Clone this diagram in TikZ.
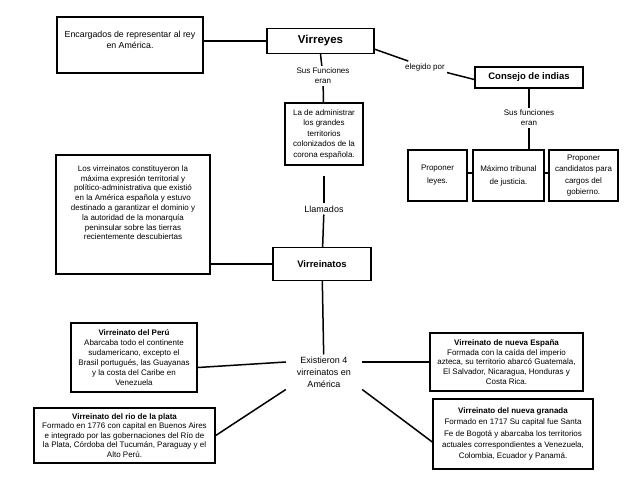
\documentclass[tikz,border=0pt]{standalone}
\usepackage{fontspec}
\setmainfont{Liberation Sans}
\usepackage{tikz}
\usetikzlibrary{calc}

\tikzset{
  caja/.style={draw, line width=1.4pt, align=center, inner sep=2pt, font=\fontsize{8}{10}\selectfont},
  titulo/.style={caja, font=\bfseries\fontsize{9.5}{11}\selectfont},
  nota/.style={align=center, inner sep=2pt, font=\fontsize{8}{10}\selectfont},
  enlace/.style={line width=1.5pt},
}

\begin{document}
\begin{tikzpicture}[x=1pt,y=-1pt]
    \useasboundingbox (0,0) rectangle (638,493);
    % parte de arriba
    \node[caja, minimum width=146, minimum height=56, font=\fontsize{8.8}{11}\selectfont] (encargados) at (130,45) {Encargados de representar al rey\\en América.\\[-1pt]};
    \node[titulo, minimum width=107, minimum height=25, font=\bfseries\fontsize{11.5}{13}\selectfont] (virreyes) at (320.5,41) {Virreyes};
    \node[nota] (susfunciones) at (323,76) {Sus Funciones\\eran};
    \node[caja, minimum width=78, minimum height=62, font=\fontsize{8}{10.5}\selectfont] (administrar) at (324,134) {La de administrar\\los grandes\\territorios\\colonizados de la\\corona española.};
    \node[nota, font=\fontsize{9}{11}\selectfont] (llamados) at (324,209) {Llamados};
    \node[nota] (elegido) at (425,67) {elegido por};
    \node[titulo, minimum width=108, minimum height=21] (consejo) at (529,77.5) {Consejo de indias};
    \node[nota] (susfunciones2) at (529,118) {Sus funciones\\eran};
    \node[caja, minimum width=59, minimum height=51, font=\fontsize{8}{13}\selectfont] (leyes) at (437.5,175.5) {Proponer\\leyes.};
    \node[caja, minimum width=71, minimum height=51, font=\fontsize{8}{13}\selectfont] (tribunal) at (508.5,175.5) {Máximo tribunal\\de justicia.};
    \node[caja, minimum width=69, minimum height=51, font=\fontsize{8}{11.3}\selectfont] (candidatos) at (583.5,175.5) {Proponer\\candidatos para\\cargos del\\gobierno.};
    % parte del medio
    \node[caja, minimum width=154, minimum height=119, font=\fontsize{8}{9.8}\selectfont] (constituyeron) at (133,214.5) {Los virreinatos constituyeron la\\máxima expresión territorial y\\político-administrativa que existió\\en la América española y estuvo\\destinado a garantizar el dominio y\\la autoridad de la monarquía\\peninsular sobre las tierras\\recientemente descubiertas\\[14pt]};
    \node[titulo, minimum width=98, minimum height=33] (virreinatos) at (322,264) {Virreinatos};
    \node[nota, font=\fontsize{9}{12}\selectfont, inner xsep=11pt] (existieron) at (324,372) {Existieron 4\\virreinatos en\\América};
    % los cuatro virreinatos
    \node[caja, minimum width=126, minimum height=69] (peru) at (134,357.5) {\textbf{Virreinato del Perú}\\Abarcaba todo el continente\\sudamericano, excepto el\\Brasil portugués, las Guayanas\\y la costa del Caribe en\\Venezuela};
    \node[caja, minimum width=153, minimum height=58, font=\fontsize{8}{9.8}\selectfont] (nuevaespana) at (506.5,362) {\textbf{Virreinato de nueva España}\\Formada con la caída del imperio\\azteca, su territorio abarcó Guatemala,\\El Salvador, Nicaragua, Honduras y\\Costa Rica.};
    \node[caja, minimum width=181, minimum height=55, font=\fontsize{8}{9.4}\selectfont] (rioplata) at (124.5,435.5) {\textbf{Virreinato del rio de la plata}\\Formado en 1776 con capital en Buenos Aires\\e integrado por las gobernaciones del Río de\\la Plata, Córdoba del Tucumán, Paraguay y el\\Alto Perú.};
    \node[caja, minimum width=160, minimum height=70, font=\fontsize{8}{11.3}\selectfont] (nuevagranada) at (513,434) {\textbf{Virreinato del nueva granada}\\Formado en 1717 Su capital fue Santa\\Fe de Bogotá y abarcaba los territorios\\actuales correspondientes a Venezuela,\\Colombia, Ecuador y Panamá.};
    % conectores
    \draw[enlace] (virreyes.west) -- (virreyes.west -| encargados.east);
    \draw[enlace] (virreyes.south) -- (susfunciones);
    \draw[enlace] (susfunciones) -- (administrar);
    \draw[enlace, shorten <=10pt] (administrar) -- (llamados);
    \draw[enlace] (llamados) -- (virreinatos);
    \draw[enlace] ($(virreyes.south east)+(0,-5)$) -- (elegido);
    \draw[enlace] (elegido) -- ($(consejo.west)+(0,2)$);
    \draw[enlace] (consejo) -- (susfunciones2);
    \draw[enlace] (susfunciones2) -- (susfunciones2 |- tribunal.north);
    \draw[enlace] ($(leyes.east)+(0,-2.5)$) -- ($(tribunal.west)+(0,-2.5)$);
    \draw[enlace] ($(tribunal.east)+(0,-2.5)$) -- ($(candidatos.west)+(0,-2.5)$);
    \draw[enlace] (virreinatos.west) -- (virreinatos.west -| constituyeron.east);
    \draw[enlace] (virreinatos) -- (existieron);
    \draw[enlace] (nuevaespana.west) -- (nuevaespana.west -| existieron.east);
    \draw[enlace] (existieron.west |- nuevaespana.west) -- ($(peru.east)+(0,10)$);
    \draw[enlace] (existieron.south west) -- (rioplata.east);
    \draw[enlace] (existieron.south east) -- ($(nuevagranada.west)+(0,8)$);
\end{tikzpicture}
\end{document}
